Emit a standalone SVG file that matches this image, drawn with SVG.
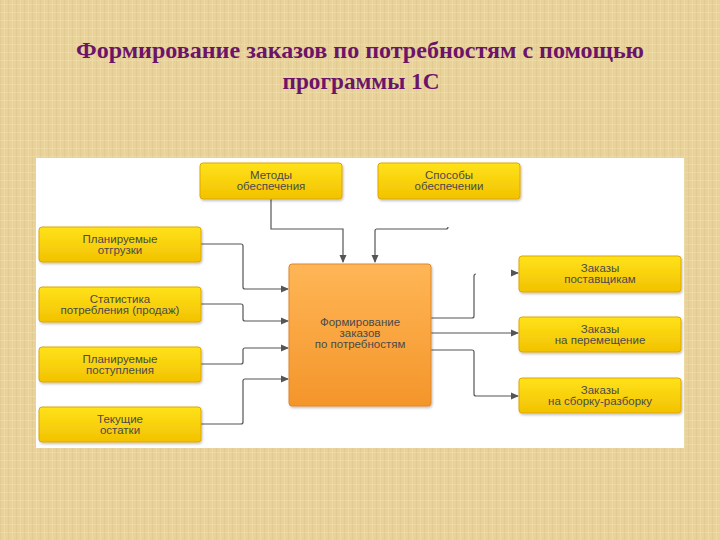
<svg xmlns="http://www.w3.org/2000/svg" width="720" height="540" viewBox="0 0 720 540">
<defs>
<pattern id="tex" width="8" height="8" patternUnits="userSpaceOnUse">
<rect width="8" height="8" fill="#e8d29a"/>
<rect x="0" y="0" width="1" height="8" fill="#dcc286" opacity="0.5"/>
<rect x="4" y="0" width="1" height="8" fill="#f0dfae" opacity="0.5"/>
<rect x="0" y="4" width="8" height="1" fill="#f0dfae" opacity="0.5"/>
</pattern>
<linearGradient id="gy" x1="0" y1="0" x2="0" y2="1">
<stop offset="0" stop-color="#ffe21a"/>
<stop offset="1" stop-color="#f2c200"/>
</linearGradient>
<linearGradient id="go" x1="0" y1="0" x2="0" y2="1">
<stop offset="0" stop-color="#ffb656"/>
<stop offset="1" stop-color="#f4952a"/>
</linearGradient>
<marker id="arr" markerWidth="8" markerHeight="8" refX="7" refY="4" orient="auto" markerUnits="userSpaceOnUse">
<path d="M0,0.5 L8,4 L0,7.5 Z" fill="#555"/>
</marker>
<filter id="sh" x="-10%" y="-10%" width="120%" height="130%">
<feDropShadow dx="1" dy="1.5" stdDeviation="1" flood-color="#000" flood-opacity="0.25"/>
</filter>
</defs>
<style>
.y{fill:url(#gy);stroke:#dfa600;stroke-width:1;filter:url(#sh)}
.o{fill:url(#go);stroke:#e0862a;stroke-width:1;filter:url(#sh)}
.t{font-family:"Liberation Sans",Arial,sans-serif;font-size:11.5px;fill:#4a4a4a;text-anchor:middle}
.c{fill:none;stroke:#555;stroke-width:1.2}
.title{font-family:"Liberation Serif","Times New Roman",serif;font-weight:bold;font-size:23px;fill:#6b1468;text-anchor:middle}
</style>
<rect width="720" height="540" fill="url(#tex)"/>
<text class="title" x="360" y="58" textLength="568" lengthAdjust="spacingAndGlyphs">Формирование заказов по потребностям с помощью</text>
<text class="title" x="361" y="89" textLength="157" lengthAdjust="spacingAndGlyphs">программы 1С</text>
<rect x="36" y="158" width="648" height="290" fill="#ffffff"/>

<g id="connectors">
<path class="c" d="M271,199 V229 H343 V262" marker-end="url(#arr)"/>
<path class="c" d="M448,227 Q448,229 446,229 H377 Q375,229 375,231 V262" marker-end="url(#arr)"/>
<path class="c" d="M201,244 H241 Q243,244 243,246 V287 Q243,289 245,289 H288" marker-end="url(#arr)"/>
<path class="c" d="M201,304 H241 Q243,304 243,306 V319 Q243,321 245,321 H288" marker-end="url(#arr)"/>
<path class="c" d="M201,364 H241 Q243,364 243,362 V350 Q243,348 245,348 H288" marker-end="url(#arr)"/>
<path class="c" d="M201,424 H241 Q243,424 243,422 V381 Q243,379 245,379 H288" marker-end="url(#arr)"/>
<path class="c" d="M431,318 H472 Q474,318 474,316 V276 Q474,274 476,274"/>
<path class="c" d="M511,273 H518" marker-end="url(#arr)"/>
<path class="c" d="M431,333 H518" marker-end="url(#arr)"/>
<path class="c" d="M431,350 H472 Q474,350 474,352 V394 Q474,396 476,396 H518" marker-end="url(#arr)"/>
</g>

<g id="n-metody"><rect class="y" x="200" y="163" width="142" height="36" rx="3"/><text class="t" x="271" y="179">Методы</text><text class="t" x="271" y="190">обеспечения</text></g>
<g id="n-sposoby"><rect class="y" x="378" y="163" width="142" height="36" rx="3"/><text class="t" x="449" y="179">Способы</text><text class="t" x="449" y="190">обеспечении</text></g>
<g id="n-otgruzki"><rect class="y" x="39" y="227" width="162" height="35" rx="3"/><text class="t" x="120" y="243">Планируемые</text><text class="t" x="120" y="254">отгрузки</text></g>
<g id="n-statistika"><rect class="y" x="39" y="287" width="162" height="35" rx="3"/><text class="t" x="120" y="303">Статистика</text><text class="t" x="120" y="314">потребления (продаж)</text></g>
<g id="n-postupleniya"><rect class="y" x="39" y="347" width="162" height="35" rx="3"/><text class="t" x="120" y="363">Планируемые</text><text class="t" x="120" y="374">поступления</text></g>
<g id="n-ostatki"><rect class="y" x="39" y="407" width="162" height="35" rx="3"/><text class="t" x="120" y="423">Текущие</text><text class="t" x="120" y="434">остатки</text></g>
<g id="n-center"><rect class="o" x="289" y="264" width="142" height="142" rx="3"/><text class="t" x="360" y="326">Формирование</text><text class="t" x="360" y="337">заказов</text><text class="t" x="360" y="348">по потребностям</text></g>
<g id="n-postavshikam"><rect class="y" x="519" y="256" width="162" height="36" rx="3"/><text class="t" x="600" y="272">Заказы</text><text class="t" x="600" y="283">поставщикам</text></g>
<g id="n-peremeshenie"><rect class="y" x="519" y="317" width="162" height="35" rx="3"/><text class="t" x="600" y="333">Заказы</text><text class="t" x="600" y="344">на перемещение</text></g>
<g id="n-sborka"><rect class="y" x="519" y="378" width="162" height="35" rx="3"/><text class="t" x="600" y="394">Заказы</text><text class="t" x="600" y="405">на сборку-разборку</text></g>
</svg>
